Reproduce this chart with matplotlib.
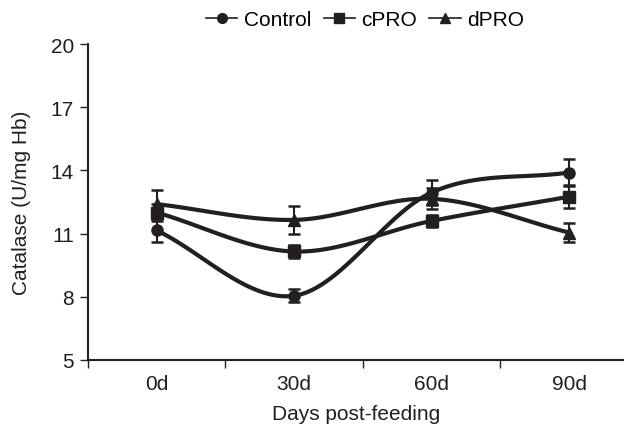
import numpy as np
import matplotlib
matplotlib.use("Agg")
import matplotlib.pyplot as plt
from matplotlib.lines import Line2D

categories = ["0d", "30d", "60d", "90d"]
control = [11.15, 8.05, 12.95, 13.9]
control_err = [0.55, 0.3, 0.6, 0.65]
cpro = [12.0, 10.15, 11.6, 12.75]
cpro_err = [0.4, 0.3, 0.3, 0.55]
dpro = [12.4, 11.65, 12.65, 11.05]
dpro_err = [0.65, 0.65, 0.5, 0.45]
yticks = [5, 8, 11, 14, 17, 20]

plt.rcParams['font.family'] = ['Liberation Sans', 'DejaVu Sans']

def catmull_rom(xs, ys, n=40):
    xs = np.asarray(xs, float); ys = np.asarray(ys, float)
    px = np.concatenate([[2*xs[0]-xs[1]], xs, [2*xs[-1]-xs[-2]]])
    py = np.concatenate([[2*ys[0]-ys[1]], ys, [2*ys[-1]-ys[-2]]])
    outx, outy = [], []
    for i in range(1, len(px)-2):
        t = np.linspace(0, 1, n)
        for arr, out in ((px, outx), (py, outy)):
            p0, p1, p2, p3 = arr[i-1], arr[i], arr[i+1], arr[i+2]
            m1 = (p2 - p0) / 2
            m2 = (p3 - p1) / 2
            h00 = 2*t**3 - 3*t**2 + 1
            h10 = t**3 - 2*t**2 + t
            h01 = -2*t**3 + 3*t**2
            h11 = t**3 - t**2
            out.extend(h00*p1 + h10*m1 + h01*p2 + h11*m2)
    return np.array(outx), np.array(outy)

fig = plt.figure(figsize=(6.24, 4.27), dpi=100)
ax = fig.add_axes([0.141, 0.1546, 0.859, 0.74])
x = np.arange(len(categories))
col = '#231f20'
fs = 15
series = [(control, control_err, 'o', 'Control'),
          (cpro, cpro_err, 's', 'cPRO'),
          (dpro, dpro_err, '^', 'dPRO')]
handles = []
for vals, err, mk, lab in series:
    sx, sy = catmull_rom(x, vals)
    ax.plot(sx, sy, color=col, lw=3.0, solid_capstyle='round', zorder=2)
    ax.errorbar(x, vals, yerr=err, fmt=mk, color=col, ms=8, capsize=4,
                elinewidth=1.5, capthick=1.8, zorder=3)
    handles.append(Line2D([0], [0], color=col, lw=1.2, marker=mk, ms=7, label=lab))

ax.set_xlim(-0.5, 3.4)
ax.set_ylim(5, 20)
ax.set_yticks(yticks)
ax.set_xticks(x)
ax.set_xticklabels(categories)
ax.set_xticks(np.arange(-0.5, 3.0, 1.0), minor=True)
ax.tick_params(axis='x', which='major', length=0, labelsize=fs, pad=10, colors=col)
ax.tick_params(axis='x', which='minor', length=6, width=1, direction='out', color=col)
ax.tick_params(axis='y', length=6, width=1, labelsize=fs, colors=col, pad=4)
for s in ['top', 'right']:
    ax.spines[s].set_visible(False)
for s in ['left', 'bottom']:
    ax.spines[s].set_linewidth(1.5)
    ax.spines[s].set_color(col)
ax.set_xlabel('Days post-feeding', fontsize=fs, color=col, labelpad=8)
ax.set_ylabel('Catalase (U/mg Hb)', fontsize=fs, color=col, labelpad=14)
fig.legend(handles=handles, loc='upper center', bbox_to_anchor=(0.585, 1.018), ncol=3,
           frameon=False, fontsize=fs, handlelength=1.5, handletextpad=0.3,
           columnspacing=0.6)
fig.savefig('out.png', dpi=100)
